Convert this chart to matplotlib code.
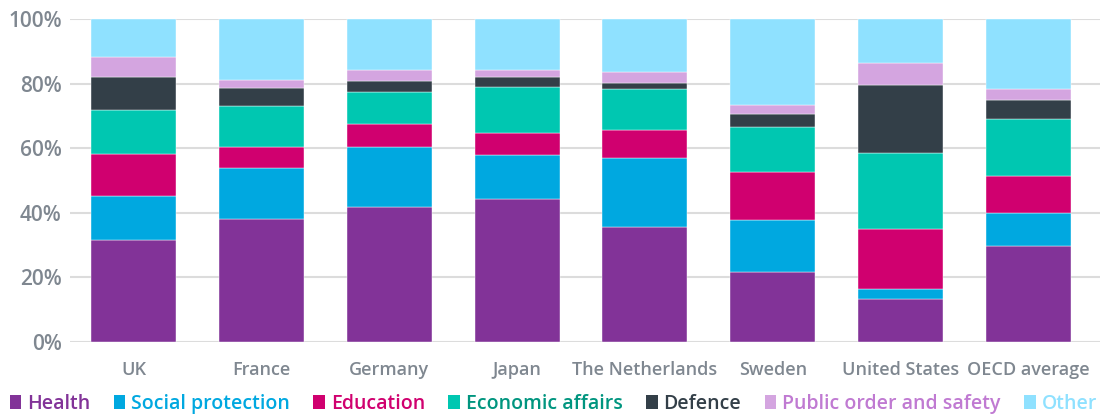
import numpy as np
import matplotlib
matplotlib.use('Agg')
import matplotlib.pyplot as plt
from matplotlib.patches import Patch

countries = ['UK', 'France', 'Germany', 'Japan', 'The Netherlands', 'Sweden',
             'United States', 'OECD average']
categories = ['Health', 'Social protection', 'Education', 'Economic affairs',
              'Defence', 'Public order and safety', 'Other']

# share of spending, %
health    = [31.5, 38.1, 41.8, 44.3, 35.6, 21.7, 13.3, 29.7]
social    = [13.7, 15.7, 18.4, 13.5, 21.4, 16.1,  3.1, 10.2]
education = [13.1,  6.6,  7.3,  6.9,  8.7, 14.9, 18.6, 11.5]
economic  = [13.4, 12.6,  9.8, 14.3, 12.6, 13.7, 23.5, 17.5]
defence   = [10.3,  5.6,  3.4,  3.0,  2.0,  4.3, 21.1,  5.9]
public    = [ 6.3,  2.5,  3.5,  2.2,  3.2,  2.7,  6.7,  3.4]
other     = [11.7, 18.9, 15.8, 15.8, 16.5, 26.6, 13.7, 21.8]

series = [health, social, education, economic, defence, public, other]
colors = ['#823398', '#00a8e0', '#d0006f', '#00c7b1', '#333f48', '#d4a5e0', '#8fe1ff']
text_colors = ['#823398', '#00a8e0', '#d0006f', '#00957f', '#333f48', '#c07ad2', '#8fe1ff']

plt.rcParams['font.family'] = ['Open Sans', 'DejaVu Sans']
plt.rcParams['font.weight'] = 'semibold'

fig = plt.figure(figsize=(11.02, 4.16), dpi=100)
ax = fig.add_axes([0.0635, 0.1786, 0.9345, 0.7758])

x = np.arange(len(countries))
bottom = np.zeros(len(countries))
for vals, col in zip(series, colors):
  ax.bar(x, vals, width=0.665, bottom=bottom, color=col, edgecolor='white',
         linewidth=0.3, zorder=3)
  bottom += np.array(vals)

ax.set_xlim(-0.5, 7.56)
ax.set_ylim(0, 100)
ax.set_yticks(range(0, 101, 20))
ax.set_yticklabels(['{}%'.format(v) for v in range(0, 101, 20)])
ax.set_xticks(x)
ax.set_xticklabels(countries)
ax.grid(axis='y', color='#dcdcdc', linewidth=1.5, zorder=0)
for s in ax.spines.values():
  s.set_visible(False)
ax.tick_params(axis='both', length=0, colors='#7f8790')
ax.tick_params(axis='y', labelsize=15, pad=6)
ax.tick_params(axis='x', labelsize=13, pad=14)

handles = [Patch(facecolor=c) for c in colors]
leg = fig.legend(handles, categories, loc='center', bbox_to_anchor=(0.502, 0.029),
                 ncol=7, frameon=False, fontsize=14, handlelength=0.6,
                 handleheight=0.7, handletextpad=0.3, columnspacing=1.2,
                 borderaxespad=0, borderpad=0)
for t, c in zip(leg.get_texts(), text_colors):
  t.set_color(c)

fig.savefig('out.png', dpi=100)
